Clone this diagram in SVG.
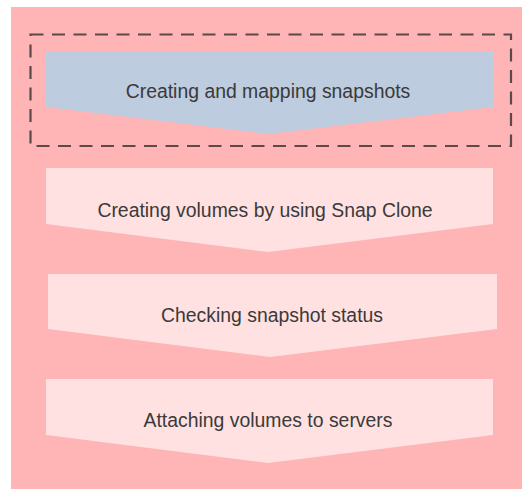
<svg xmlns="http://www.w3.org/2000/svg" width="522" height="489" viewBox="0 0 522 489">
<style>
.lbl{font-family:"Liberation Sans",Arial,sans-serif;font-size:19.4px;fill:#3a3a3a;text-anchor:middle}
.step{fill:#FFE1E1}
.cur{fill:#BDCCDE}
</style>
<rect x="0" y="0" width="522" height="489" fill="#ffffff"/>
<g id="background">
<rect x="11" y="7" width="511" height="482" fill="#FFB4B5"/>
</g>
<g id="group-current">
<rect x="30.5" y="34.5" width="480.5" height="111.5" fill="none" stroke="#5a4a4a" stroke-width="2.2" stroke-dasharray="13 8.5"/>
</g>
<g id="step1">
<polygon class="cur" points="46,51 493,51 493,107 268,134 46,107"/>
<text class="lbl" x="268" y="98">Creating and mapping snapshots</text>
</g>
<g id="step2">
<polygon class="step" points="46,168 493,168 493,224 268,252 46,224"/>
<text class="lbl" x="265" y="217">Creating volumes by using Snap Clone</text>
</g>
<g id="step3">
<polygon class="step" points="48,274 497,274 497,329 270,357 48,329"/>
<text class="lbl" x="272" y="322">Checking snapshot status</text>
</g>
<g id="step4">
<polygon class="step" points="46,379 493,379 493,435 268,463 46,435"/>
<text class="lbl" x="268" y="427">Attaching volumes to servers</text>
</g>
<g id="connectors"/>
</svg>
